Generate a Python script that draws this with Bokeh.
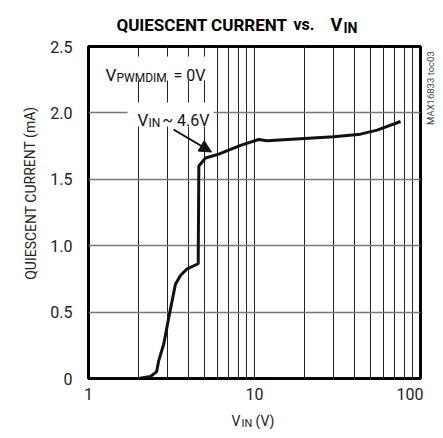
from bokeh.plotting import figure
from bokeh.models import (FixedTicker, Label, BoxAnnotation, Arrow, NormalHead,
                          Range1d, BasicTickFormatter)
from bokeh.layouts import column, row
from bokeh.core.properties import value
from bokeh.embed import file_html
from bokeh.resources import INLINE

# ---- data ----
vin = [2.0, 2.36, 2.57, 2.65, 2.84, 3.09, 3.34, 3.58, 3.93, 4.58,
       4.62, 5.07, 6.09, 8.24, 10.6, 11.9, 18.9, 30.0, 43.5, 54.8, 75.8]
iq = [0.0, 0.015, 0.05, 0.135, 0.26, 0.50, 0.71, 0.776, 0.826, 0.864,
      1.60, 1.66, 1.69, 1.755, 1.80, 1.79, 1.805, 1.82, 1.84, 1.87, 1.935]

x_major = [1, 10, 100]
x_minor = [2, 3, 4, 5, 6, 7, 8, 9, 20, 30, 40, 50, 60, 70, 80, 90]
x_labels = {1: "1", 10: "10", 100: "100"}
y_ticks = [0, 0.5, 1.0, 1.5, 2.0, 2.5]
y_labels = {0: "0", 0.5: "0.5", 1.0: "1.0", 1.5: "1.5", 2.0: "2.0", 2.5: "2.5"}

FONT = "Roboto"
TXT = "#222222"

W_TOTAL = 435
TITLE_H = 38
YLAB_W = 46
SIDE_W = 12
MAIN_W = W_TOTAL - YLAB_W - SIDE_W
MAIN_H = 367
XLAB_H = 25

# frame geometry in picture pixels (for placing annotations)
FL, FR, FT, FB = 88, 420, 46, 378


def px2x(px):
    return 10 ** ((px - FL) / ((FR - FL) / 2.0))


def px2y(py):
    return (FB - py) / ((FB - FT) / 2.5)


def blank(w, h):
    f = figure(width=w, height=h, x_range=Range1d(0, w), y_range=Range1d(h, 0),
               output_backend="svg", toolbar_location=None, title_location=None,
               x_axis_location=None, y_axis_location=None, min_border=0)
    f.grid.visible = False
    f.outline_line_color = None
    f.background_fill_color = "white"
    f.border_fill_color = "white"
    return f


def txt(f, s, x, y, size, bold=False, color=TXT, align="left",
        baseline="alphabetic", angle=0.0):
    f.text(x=[x], y=[y], text=[s], text_font=value(FONT),
           text_font_size=value(f"{size}px"),
           text_font_style="bold" if bold else "normal",
           text_color=color, text_align=align, text_baseline=baseline,
           angle=angle)


# ---- main plot ----
p = figure(width=MAIN_W, height=MAIN_H, x_axis_type="log",
           x_range=(1, 100), y_range=(0, 2.5),
           output_backend="svg", toolbar_location=None, title_location=None,
           min_border_left=FL - YLAB_W, min_border_right=3,
           min_border_top=FT - TITLE_H, min_border_bottom=MAIN_H - 332 - (FT - TITLE_H))

p.outline_line_color = "black"
p.outline_line_width = 3
p.background_fill_color = "white"
p.border_fill_color = "white"

p.xaxis.ticker = FixedTicker(ticks=x_major, minor_ticks=x_minor)
p.xaxis.formatter = BasicTickFormatter()
p.xaxis.major_label_overrides = x_labels
p.yaxis.ticker = FixedTicker(ticks=y_ticks)
p.yaxis.major_label_overrides = y_labels
for ax in (p.xaxis, p.yaxis):
    ax.axis_line_color = None
    ax.major_tick_line_color = None
    ax.minor_tick_line_color = None
    ax.major_tick_out = 0
    ax.major_tick_in = 0
    ax.minor_tick_out = 0
    ax.minor_tick_in = 0
    ax.major_label_text_font = FONT
    ax.major_label_text_font_size = "16px"
    ax.major_label_text_color = TXT
p.yaxis.major_label_standoff = 16
p.xaxis.major_label_standoff = 9

p.xgrid.grid_line_color = "#222222"
p.xgrid.grid_line_width = 1
p.xgrid.minor_grid_line_color = "#222222"
p.xgrid.minor_grid_line_width = 1
p.ygrid.grid_line_color = "#777777"
p.ygrid.grid_line_width = 1.5

p.line(vin, iq, line_color="#111111", line_width=3)

p.add_layout(BoxAnnotation(left=px2x(101), right=px2x(210), top=px2y(56), bottom=px2y(80),
                           fill_color="white", fill_alpha=1, line_color=None))
p.add_layout(BoxAnnotation(left=px2x(127), right=px2x(213), top=px2y(102), bottom=px2y(126),
                           fill_color="white", fill_alpha=1, line_color=None))


def lab(text, px, py, size, align="left"):
    p.add_layout(Label(x=px2x(px), y=px2y(py), text=text,
                       text_font=FONT, text_font_size=f"{size}px",
                       text_color="#111111", text_align=align,
                       text_baseline="alphabetic"))


lab("V", 105, 74.5, 17)
lab("PWMDIM", 116, 77, 12)
lab("= 0V", 205, 74.5, 16, align="right")
lab("V", 137, 119.5, 17)
lab("IN", 148, 122, 12)
lab("~ 4.6V", 209, 119.5, 16, align="right")

p.add_layout(Arrow(end=NormalHead(size=12, fill_color="#111111", line_color="#111111"),
                   x_start=px2x(173), y_start=px2y(129),
                   x_end=px2x(211), y_end=px2y(151.5),
                   line_color="#111111", line_width=2))

# ---- title strip ----
t = blank(W_TOTAL, TITLE_H)
tb = 24
txt(t, "QUIESCENT CURRENT", 287, tb, 17, bold=True, color="black", align="right")
txt(t, "vs.", 293, tb, 16, bold=True, color="black")
txt(t, "V", 330, tb, 18, bold=True, color="black")
txt(t, "IN", 343, tb + 3, 14, bold=True, color="black")

# ---- y-axis label strip ----
row_top = TITLE_H
yl = blank(YLAB_W, MAIN_H)
txt(yl, "QUIESCENT CURRENT (mA)", 30, 200 - row_top, 14, align="center",
    baseline="middle", angle=1.5708)

# ---- right side note ----
sd = blank(SIDE_W, MAIN_H)
side_left = YLAB_W + MAIN_W
txt(sd, "MAX16833 toc03", 430 - side_left, 84 - row_top, 9.5, color="#444444",
    align="center", baseline="middle", angle=1.5708)

# ---- x-axis label strip ----
xl = blank(W_TOTAL, XLAB_H)
xb = 420 - (TITLE_H + MAIN_H)
txt(xl, "V", 231, xb, 14)
txt(xl, "IN", 241, xb + 3, 11)
txt(xl, "(V)", 255, xb, 14)

layout = column(t, row(yl, p, sd), xl)

open("out.html", "w").write(file_html(layout, INLINE))
